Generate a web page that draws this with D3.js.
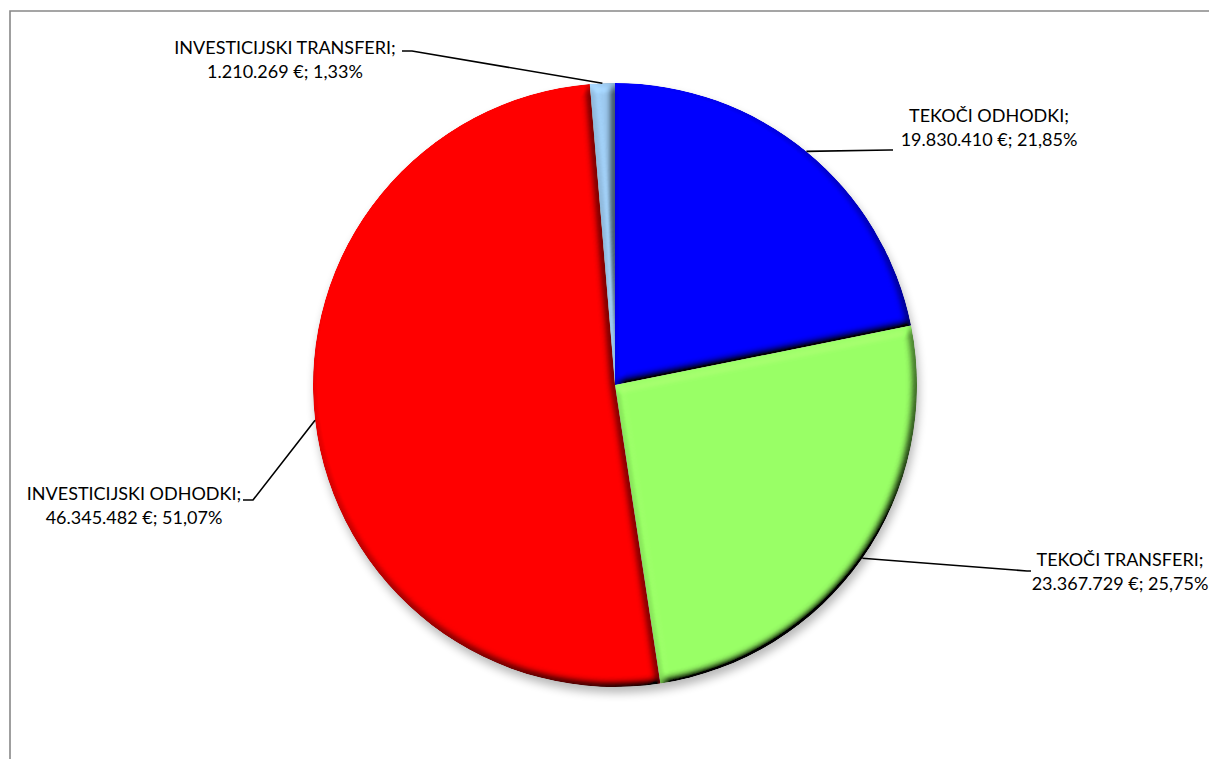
<!DOCTYPE html>
<html><head><meta charset="utf-8">
<script src="https://cdn.jsdelivr.net/npm/d3@7"></script>
<style>html,body{margin:0;padding:0;background:#fff;overflow:hidden}svg{display:block}</style>
</head><body>
<svg id="chart" width="1209" height="759"></svg>
<script>
const categories = ["TEKOČI ODHODKI","TEKOČI TRANSFERI","INVESTICIJSKI ODHODKI","INVESTICIJSKI TRANSFERI"];
const amounts = ["19.830.410","23.367.729","46.345.482","1.210.269"];
const percents = [21.85, 25.75, 51.07, 1.33];
const percentLabels = ["21,85%","25,75%","51,07%","1,33%"];
const colors = ["#0000ff","#99ff66","#ff0000","#9dcaf0"];

const W = 1209, H = 759;
const cx = 615, cy = 385, R = 302;
const svg = d3.select("#chart");

// frame (top and left edges only; right/bottom are outside the picture)
svg.append("path").attr("d",`M10,${H} L10,11 L${W},11`)
  .attr("fill","none").attr("stroke","#888").attr("stroke-width",1.6);

const defs = svg.append("defs");
const f = defs.append("filter").attr("id","bevel").attr("x","-5%").attr("y","-5%").attr("width","110%").attr("height","110%");
f.append("feGaussianBlur").attr("in","SourceAlpha").attr("stdDeviation",4).attr("result","blur");
const dl = f.append("feDiffuseLighting").attr("in","blur").attr("surfaceScale",9).attr("diffuseConstant",1)
  .attr("lighting-color","#fff").attr("result","light");
dl.append("feDistantLight").attr("azimuth",235).attr("elevation",55);
f.append("feComposite").attr("in","SourceGraphic").attr("in2","light").attr("operator","arithmetic")
  .attr("k1",1/Math.sin(55*Math.PI/180)).attr("k2",0).attr("k3",0).attr("k4",0).attr("result","lit");
f.append("feComposite").attr("in","lit").attr("in2","SourceAlpha").attr("operator","in");

const sh = defs.append("filter").attr("id","shadow").attr("x","-20%").attr("y","-20%").attr("width","140%").attr("height","140%");
sh.append("feGaussianBlur").attr("stdDeviation",5);

const g = svg.append("g").attr("transform",`translate(${cx},${cy})`);
g.append("circle").attr("cx",2).attr("cy",6).attr("r",R).attr("fill","#000").attr("opacity",0.28).attr("filter","url(#shadow)");

const pie = d3.pie().value(d=>d).sort(null);
const arcs = pie(percents);
const arc = d3.arc().innerRadius(0).outerRadius(R);

g.selectAll("path.slice").data(arcs).enter().append("path")
  .attr("class","slice").attr("d",arc).attr("fill",(d,i)=>colors[i]).attr("filter","url(#bevel)");

// labels
const labelPos = [
  {x:989, y:122, anchor:"middle", end:[890,150], knee:[893,150]},
  {x:1120, y:566, anchor:"middle", end:[1027,571], knee:[1031,571]},
  {x:134, y:500, anchor:"middle", end:[253,500], knee:[243,500]},
  {x:285, y:54, anchor:"middle", end:[412,51], knee:[402,51]}
];
const font = "Lato, 'Open Sans', sans-serif";
arcs.forEach((d,i)=>{
  const a = (d.startAngle+d.endAngle)/2;
  const px = cx + R*Math.sin(a), py = cy - R*Math.cos(a);
  const p = labelPos[i];
  svg.append("polyline").attr("points",[[px,py],p.end,p.knee].map(q=>q.join(",")).join(" "))
    .attr("fill","none").attr("stroke","#000").attr("stroke-width",1.6);
  const t = svg.append("text").attr("font-family",font).attr("font-size",18).attr("fill","#000")
    .attr("text-anchor",p.anchor);
  t.append("tspan").attr("x",p.x).attr("y",p.y).text(categories[i]+";");
  t.append("tspan").attr("x",p.x).attr("y",p.y+24).text(amounts[i]+" €; "+percentLabels[i]);
});
</script>
</body></html>
